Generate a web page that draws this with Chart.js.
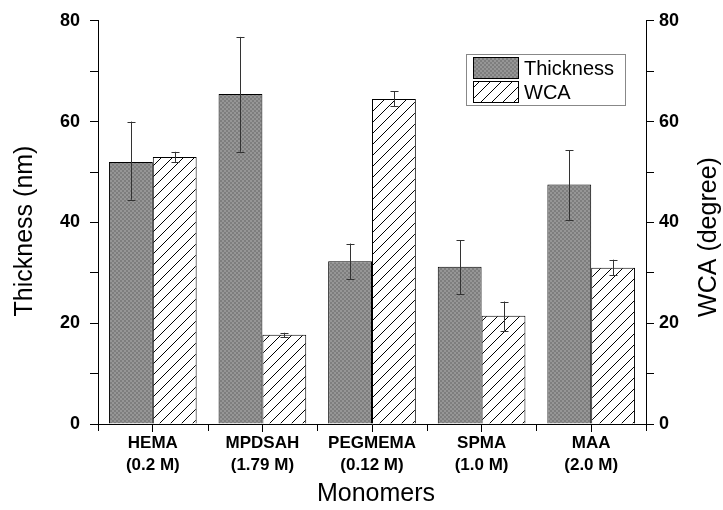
<!DOCTYPE html>
<html>
<head>
<meta charset="utf-8">
<script src="https://cdn.jsdelivr.net/npm/chart.js@4.4.0/dist/chart.umd.min.js"></script>
<style>
  html, body { margin: 0; padding: 0; background: #fff; }
  #wrap { width: 723px; height: 510px; }
</style>
</head>
<body>
<div id="wrap"><canvas id="chart" width="723" height="510"></canvas></div>
<script>
const categories = [['HEMA', '(0.2 M)'], ['MPDSAH', '(1.79 M)'], ['PEGMEMA', '(0.12 M)'], ['SPMA', '(1.0 M)'], ['MAA', '(2.0 M)']];
const thickness = [52.0, 65.5, 32.3, 31.2, 47.5];
const thicknessLow = [44.5, 54.0, 28.7, 25.8, 40.5];
const thicknessHigh = [60.0, 76.8, 35.8, 36.5, 54.3];
const wca = [53.0, 17.7, 64.5, 21.5, 31.0];
const wcaLow = [52.0, 17.2, 63.0, 18.5, 29.5];
const wcaHigh = [54.0, 18.1, 66.0, 24.3, 32.6];

const FONT = "'Liberation Sans', Arial, sans-serif";

// gray checker fill
function checkerPattern(ctx) {
  const c = document.createElement('canvas');
  c.width = 4; c.height = 4;
  const g = c.getContext('2d');
  g.fillStyle = '#969696'; g.fillRect(0, 0, 4, 4);
  g.fillStyle = '#7e7e7e'; g.fillRect(0, 0, 2, 2); g.fillRect(2, 2, 2, 2);
  return ctx.createPattern(c, 'repeat');
}

// white with diagonal hatch
function hatchPattern(ctx) {
  const s = 11;
  const c = document.createElement('canvas');
  c.width = s; c.height = s;
  const g = c.getContext('2d');
  g.fillStyle = '#fff'; g.fillRect(0, 0, s, s);
  g.strokeStyle = '#000'; g.lineWidth = 1;
  g.beginPath();
  g.moveTo(0, s); g.lineTo(s, 0);
  g.moveTo(-s / 2, s / 2); g.lineTo(s / 2, -s / 2);
  g.moveTo(s / 2, s * 1.5); g.lineTo(s * 1.5, s / 2);
  g.stroke();
  return ctx.createPattern(c, 'repeat');
}

const ctx = document.getElementById('chart').getContext('2d');
const fillA = checkerPattern(ctx);
const fillB = hatchPattern(ctx);

const errorBars = {
  id: 'errorBars',
  afterDatasetsDraw(chart) {
    const c = chart.ctx;
    const sets = [[thicknessLow, thicknessHigh, 'y'], [wcaLow, wcaHigh, 'y1']];
    c.save();
    c.strokeStyle = '#333';
    c.lineWidth = 1;
    sets.forEach((s, di) => {
      const meta = chart.getDatasetMeta(di);
      const sc = chart.scales[s[2]];
      meta.data.forEach((bar, i) => {
        const x = Math.round(bar.x) + 0.5;
        const y1 = sc.getPixelForValue(s[0][i]);
        const y2 = sc.getPixelForValue(s[1][i]);
        c.beginPath();
        c.moveTo(x, y1); c.lineTo(x, y2);
        c.moveTo(x - 4, Math.round(y1) + 0.5); c.lineTo(x + 4, Math.round(y1) + 0.5);
        c.moveTo(x - 4, Math.round(y2) + 0.5); c.lineTo(x + 4, Math.round(y2) + 0.5);
        c.stroke();
      });
    });
    c.restore();
  }
};

// boundary ticks, axis titles and the legend box
const extras = {
  id: 'extras',
  afterDraw(chart) {
    const c = chart.ctx;
    const xs = chart.scales.x;
    c.save();
    c.strokeStyle = '#000';
    c.lineWidth = 1;
    for (let i = 0; i <= categories.length; i++) {
      const x = Math.round(xs.getPixelForValue(i - 0.5)) + 0.5;
      c.beginPath();
      c.moveTo(x, xs.top); c.lineTo(x, xs.top + 7);
      c.stroke();
    }
    // axis titles
    c.fillStyle = '#000';
    c.font = '25px ' + FONT;
    c.textAlign = 'center';
    c.textBaseline = 'middle';
    c.fillText('Monomers', 376, 494);
    [['Thickness (nm)', 25, 231], ['WCA (degree)', 709, 237]].forEach(t => {
      c.save();
      c.translate(t[1], t[2]);
      c.rotate(-Math.PI / 2);
      c.fillText(t[0], 0, 0);
      c.restore();
    });
    // legend
    const lx = 466, ly = 54, lw = 159, lh = 51;
    c.textAlign = 'left';
    c.fillStyle = '#fff';
    c.fillRect(lx, ly, lw, lh);
    c.strokeStyle = '#888';
    c.strokeRect(lx + 0.5, ly + 0.5, lw, lh);
    const items = [[fillA, 'Thickness'], [fillB, 'WCA']];
    items.forEach((it, i) => {
      const y = ly + 3 + i * 24;
      c.fillStyle = it[0];
      c.fillRect(lx + 7, y, 45, 21);
      c.strokeStyle = '#000';
      c.strokeRect(lx + 7.5, y + 0.5, 45, 21);
      c.fillStyle = '#000';
      c.font = '20px ' + FONT;
      c.fillText(it[1], lx + 58, y + 12);
    });
    c.restore();
  }
};

new Chart(ctx, {
  type: 'bar',
  data: {
    labels: categories,
    datasets: [
      {
        label: 'Thickness',
        data: thickness,
        backgroundColor: fillA,
        borderColor: '#000',
        borderWidth: 1,
        yAxisID: 'y'
      },
      {
        label: 'WCA',
        data: wca,
        backgroundColor: fillB,
        borderColor: '#000',
        borderWidth: 1,
        yAxisID: 'y1'
      }
    ]
  },
  options: {
    responsive: false,
    animation: false,
    layout: { padding: { top: 12, left: 0, right: 0, bottom: 0 } },
    datasets: { bar: { categoryPercentage: 0.8, barPercentage: 1.0 } },
    plugins: { legend: { display: false }, tooltip: { enabled: false } },
    scales: {
      x: {
        offset: true,
        border: { color: '#000', width: 1 },
        grid: { drawOnChartArea: false, offset: false, color: '#000', tickLength: 8 },
        ticks: { color: '#000', font: { family: FONT, size: 17, weight: 'bold', lineHeight: 1.3 }, padding: 0, maxRotation: 0 },
        afterFit(s) { s.height = 86; }
      },
      y: {
        position: 'left',
        min: 0, max: 80,
        border: { color: '#000', width: 1 },
        grid: { drawOnChartArea: false, color: '#000', tickLength: 8 },
        ticks: {
          stepSize: 10,
          color: '#000',
          font: { family: FONT, size: 18, weight: 'bold' },
          padding: 10,
          callback: v => (v % 20 === 0 ? v : '')
        },
        afterFit(s) { s.width = 98; }
      },
      y1: {
        position: 'right',
        min: 0, max: 80,
        border: { color: '#000', width: 1 },
        grid: { drawOnChartArea: false, color: '#000', tickLength: 8 },
        ticks: {
          stepSize: 10,
          color: '#000',
          font: { family: FONT, size: 18, weight: 'bold' },
          padding: 5,
          callback: v => (v % 20 === 0 ? v : '')
        },
        afterFit(s) { s.width = 77; }
      }
    }
  },
  plugins: [errorBars, extras]
});
</script>
</body>
</html>
